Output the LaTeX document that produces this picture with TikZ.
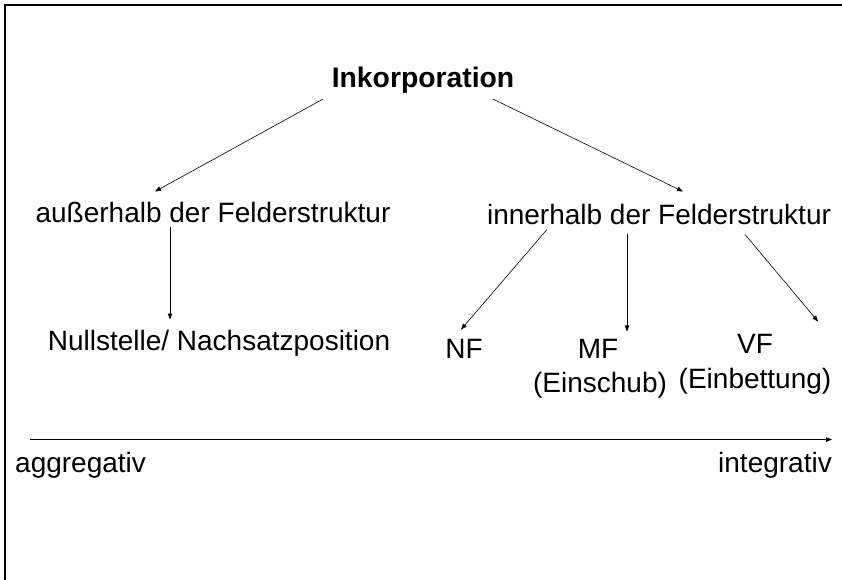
\documentclass[tikz,border=0pt]{standalone}
\usepackage{fontspec}
\setmainfont{Liberation Sans}
\usetikzlibrary{arrows.meta,calc}
\tikzset{
  lbl/.style={inner sep=0pt, font=\fontsize{28}{32}\selectfont},
  conn/.style={line width=0.6pt, -{Triangle[length=6pt,width=4.5pt]}}
}
\begin{document}
\begin{tikzpicture}[x=1pt,y=-1pt]
\useasboundingbox (0,0) rectangle (842,580);
\fill[white] (0,0) rectangle (842,580);
\draw[line width=2pt] (5,580) -- (5,5) -- (842,5);

\node[lbl, font=\fontsize{28.3}{32}\selectfont\bfseries, anchor=base] (ink) at (423,88) {Inkorporation};
\node[lbl, anchor=base] (aus) at (213,222) {außerhalb der Felderstruktur};
\node[lbl, anchor=base] (inn) at (659,224) {innerhalb der Felderstruktur};
\node[lbl, anchor=base] (null) at (219,350) {Nullstelle/ Nachsatzposition};
\node[lbl, anchor=base] (nf) at (464,358) {NF};
\node[lbl, anchor=base] (mf) at (598,358) {MF};
\node[lbl, anchor=base] (mfs) at (600,392) {(Einschub)};
\node[lbl, anchor=base] (vf) at (755,353) {VF};
\node[lbl, anchor=base] (vfs) at (755,388) {(Einbettung)};
\node[lbl, anchor=base west] (agg) at (15,472) {aggregativ};
\node[lbl, anchor=base east] (int) at (832,472) {integrativ};

\coordinate (axL) at ($(agg.north west)+(15,-12)$);
\coordinate (axR) at ($(int.north east)+(0,-12)$);
\coordinate (mfs0) at ($(inn.south)+(-32,10)$);
\coordinate (mfe) at ($(mfs0)+(0,97)$);

\draw[conn] ($(ink.south)+(-100,5)$) -- ($(aus.north)+(-58,-10)$);
\draw[conn] ($(ink.south)+(70,5)$) -- ($(inn.north)+(24,-12)$);
\draw[conn] ($(aus.south)+(-43,5)$) -- ($(null.north)+(-49,-10)$);
\draw[conn] ($(inn.south)+(-112,5)$) -- ($(nf.north)+(-3,-9)$);
\draw[conn] (mfs0) -- (mfe);
\draw[conn] ($(inn.south)+(86,10)$) -- ($(vf.north east)+(45,-12)$);
\draw[conn] (axL) -- (axR);
\end{tikzpicture}
\end{document}
